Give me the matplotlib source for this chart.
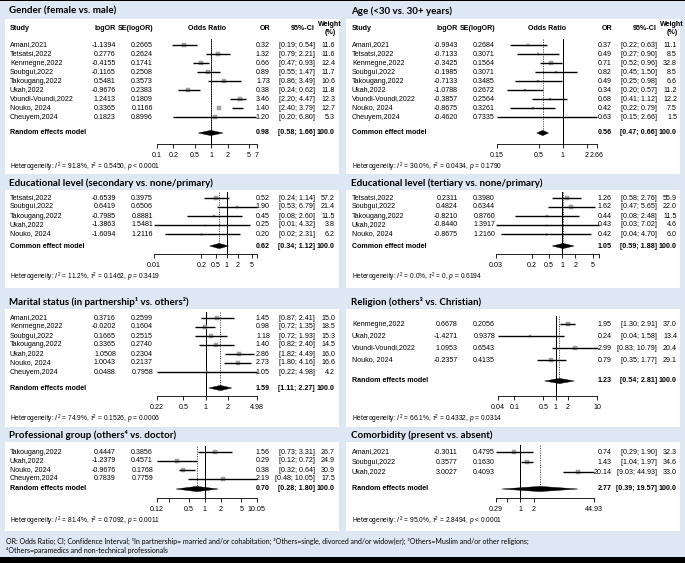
import matplotlib.pyplot as plt
import matplotlib.transforms as mtransforms
from matplotlib.patches import Rectangle, Polygon

W, H, DPI = 685, 563, 100

plt.rcParams['font.family'] = ['Liberation Sans', 'DejaVu Sans']
plt.rcParams['mathtext.fontset'] = 'custom'
plt.rcParams['mathtext.rm'] = 'Liberation Sans'
plt.rcParams['mathtext.it'] = 'Liberation Sans:italic'
plt.rcParams['mathtext.bf'] = 'Liberation Sans:bold'

# ---------------- data ----------------
gender_study = ['Amani,2021', 'Tetsatsi,2022', 'Kenmegne,2022', 'Soubgui,2022', 'Takougang,2022',
                'Ukah,2022', 'Voundi-Voundi,2022', 'Nouko, 2024', 'Cheuyem,2024']
gender_logor = [-1.1394, 0.2776, -0.4155, -0.1165, 0.5481, -0.9676, 1.2413, 0.3365, 0.1823]
gender_se = [0.2665, 0.2624, 0.1741, 0.2508, 0.3573, 0.2383, 0.1809, 0.1166, 0.8996]
gender_or = [0.32, 1.32, 0.66, 0.89, 1.73, 0.38, 3.46, 1.40, 1.20]
gender_lo = [0.19, 0.79, 0.47, 0.55, 0.86, 0.24, 2.20, 2.40, 0.20]
gender_hi = [0.54, 2.21, 0.93, 1.47, 3.49, 0.62, 4.47, 3.79, 6.80]
gender_w = [11.6, 11.6, 12.4, 11.7, 10.6, 11.8, 12.3, 12.7, 5.3]
gender_pool = [0.98, 0.58, 1.66]
gender_het = ['91.8%', '0.5450', '< 0.0001']
gender_ticks = [0.1, 0.2, 0.5, 1, 2, 5, 7]
gender_ticklabels = ['0.1', '0.2', '0.5', '1', '2', '5', '7']

age_study = ['Amani,2021', 'Tetsatsi,2022', 'Kenmegne,2022', 'Soubgui,2022', 'Takougang,2022',
             'Ukah,2022', 'Voundi-Voundi,2022', 'Nouko, 2024', 'Cheuyem,2024']
age_logor = [-0.9943, -0.7133, -0.3425, -0.1985, -0.7133, -1.0788, -0.3857, -0.8675, -0.4620]
age_se = [0.2684, 0.3071, 0.1564, 0.3071, 0.3485, 0.2672, 0.2564, 0.3261, 0.7335]
age_or = [0.37, 0.49, 0.71, 0.82, 0.49, 0.34, 0.68, 0.42, 0.63]
age_lo = [0.22, 0.27, 0.52, 0.45, 0.25, 0.20, 0.41, 0.22, 0.15]
age_hi = [0.63, 0.90, 0.96, 1.50, 0.98, 0.57, 1.12, 0.79, 2.66]
age_w = [11.1, 8.5, 32.8, 8.5, 6.6, 11.2, 12.2, 7.5, 1.5]
age_pool = [0.56, 0.47, 0.66]
age_het = ['30.0%', '0.0434', '= 0.1790']
age_ticks = [0.15, 0.5, 1, 2, 2.66]
age_ticklabels = ['0.15', '0.5', '1', '2', '2.66']

edu2_study = ['Tetsatsi,2022', 'Soubgui,2022', 'Takougang,2022', 'Ukah,2022', 'Nouko, 2024']
edu2_logor = [-0.6539, 0.6419, -0.7985, -1.3863, -1.6094]
edu2_se = [0.3975, 0.6506, 0.8881, 1.5481, 1.2116]
edu2_or = [0.52, 1.90, 0.45, 0.25, 0.20]
edu2_lo = [0.24, 0.53, 0.08, 0.01, 0.02]
edu2_hi = [1.14, 6.79, 2.60, 4.32, 2.31]
edu2_w = [57.2, 21.4, 11.5, 3.8, 6.2]
edu2_pool = [0.62, 0.34, 1.12]
edu2_het = ['11.2%', '0.1462', '= 0.3419']
edu2_ticks = [0.01, 0.2, 0.5, 1, 2, 5, 6.79]
edu2_ticklabels = ['0.01', '0.2', '0.5', '1', '2', '5', '']

edu3_study = ['Tetsatsi,2022', 'Soubgui,2022', 'Takougang,2022', 'Ukah,2022', 'Nouko, 2024']
edu3_logor = [0.2311, 0.4824, -0.8210, -0.8440, -0.8675]
edu3_se = [0.3980, 0.6344, 0.8760, 1.3917, 1.2160]
edu3_or = [1.26, 1.62, 0.44, 0.43, 0.42]
edu3_lo = [0.58, 0.47, 0.08, 0.03, 0.04]
edu3_hi = [2.76, 5.65, 2.48, 7.02, 4.70]
edu3_w = [55.9, 22.0, 11.5, 4.6, 6.0]
edu3_pool = [1.05, 0.59, 1.88]
edu3_het = ['0.0%', '0', '= 0.6194']
edu3_ticks = [0.03, 0.2, 0.5, 1, 2, 5, 7.02]
edu3_ticklabels = ['0.03', '0.2', '0.5', '1', '2', '5', '']

marital_study = ['Amani,2021', 'Kenmegne,2022', 'Soubgui,2022', 'Takougang,2022', 'Ukah,2022',
                 'Nouko, 2024', 'Cheuyem,2024']
marital_logor = [0.3716, -0.0202, 0.1665, 0.3365, 1.0508, 1.0043, 0.0488]
marital_se = [0.2599, 0.1604, 0.2515, 0.2740, 0.2304, 0.2137, 0.7958]
marital_or = [1.45, 0.98, 1.18, 1.40, 2.86, 2.73, 1.05]
marital_lo = [0.87, 0.72, 0.72, 0.82, 1.82, 1.80, 0.22]
marital_hi = [2.41, 1.35, 1.93, 2.40, 4.49, 4.16, 4.98]
marital_w = [15.0, 18.5, 15.3, 14.5, 16.0, 16.6, 4.2]
marital_pool = [1.59, 1.11, 2.27]
marital_het = ['74.9%', '0.1526', '= 0.0006']
marital_ticks = [0.22, 0.5, 1, 2, 4.98]
marital_ticklabels = ['0.22', '0.5', '1', '2', '4.98']

religion_study = ['Kenmegne,2022', 'Ukah,2022', 'Voundi-Voundi,2022', 'Nouko, 2024']
religion_logor = [0.6678, -1.4271, 1.0953, -0.2357]
religion_se = [0.2056, 0.9378, 0.6543, 0.4135]
religion_or = [1.95, 0.24, 2.99, 0.79]
religion_lo = [1.30, 0.04, 0.83, 0.35]
religion_hi = [2.91, 1.58, 10.79, 1.77]
religion_w = [37.0, 13.4, 20.4, 29.1]
religion_pool = [1.23, 0.54, 2.81]
religion_het = ['66.1%', '0.4332', '= 0.0314']
religion_ticks = [0.04, 0.1, 0.5, 1, 2, 10]
religion_ticklabels = ['0.04', '0.1', '0.5', '1', '2', '10']

prof_study = ['Takougang,2022', 'Ukah,2022', 'Nouko, 2024', 'Cheuyem,2024']
prof_logor = [0.4447, -1.2379, -0.9676, 0.7839]
prof_se = [0.3856, 0.4571, 0.1768, 0.7759]
prof_or = [1.56, 0.29, 0.38, 2.19]
prof_lo = [0.73, 0.12, 0.32, 0.48]
prof_hi = [3.31, 0.72, 0.64, 10.05]
prof_w = [26.7, 24.9, 30.9, 17.5]
prof_pool = [0.70, 0.28, 1.80]
prof_het = ['81.4%', '0.7092', '= 0.0011']
prof_ticks = [0.12, 0.2, 0.5, 1, 2, 5, 10.05]
prof_ticklabels = ['0.12', '', '0.5', '1', '2', '5', '10.05']

comorb_study = ['Amani,2021', 'Soubgui,2022', 'Ukah,2022']
comorb_logor = [-0.3011, 0.3577, 3.0027]
comorb_se = [0.4795, 0.1630, 0.4093]
comorb_or = [0.74, 1.43, 20.14]
comorb_lo = [0.29, 1.04, 9.03]
comorb_hi = [1.90, 1.97, 44.93]
comorb_w = [32.3, 34.6, 33.0]
comorb_pool = [2.77, 0.39, 19.57]
comorb_het = ['95.0%', '2.8494', '< 0.0001']
comorb_ticks = [0.29, 0.5, 1, 2, 44.93]
comorb_ticklabels = ['0.29', '', '1', '2', '44.93']

footnote = ['OR: Odds Ratio; CI; Confidence Interval; \u00b9In partnership= married and/or cohabitation; '
            '\u00b2Others=single, divorced and/or widow(er); \u00b3Others=Muslim and/or other religions;',
            '\u2074Others=paramedics and non-technical professionals']

# ---------------- layout (pixels, y from top) ----------------
BG = '#dde8f4'
FS = 5.1
TITLE_FONT = ['Lato', 'DejaVu Sans']

panels = [
    dict(title='Gender (female vs. male)', study=gender_study, logor=gender_logor, se=gender_se,
         orv=gender_or, lo=gender_lo, hi=gender_hi, w=gender_w, pool=gender_pool, het=gender_het,
         ticks=gender_ticks, labels=gender_ticklabels, model='Random effects model',
         ox=0, title_y=11, header=True, row0=45, sp=9.0, pool_y=133, axis_y=144, x0=157, x1=257),
    dict(title='Age (<30 vs. 30+ years)', study=age_study, logor=age_logor, se=age_se,
         orv=age_or, lo=age_lo, hi=age_hi, w=age_w, pool=age_pool, het=age_het,
         ticks=age_ticks, labels=age_ticklabels, model='Common effect model',
         ox=342, title_y=11, header=True, row0=45, sp=9.0, pool_y=133, axis_y=144, x0=497, x1=597),
    dict(title='Educational level (secondary vs. none/primary)', study=edu2_study, logor=edu2_logor,
         se=edu2_se, orv=edu2_or, lo=edu2_lo, hi=edu2_hi, w=edu2_w, pool=edu2_pool, het=edu2_het,
         ticks=edu2_ticks, labels=edu2_ticklabels, model='Common effect model',
         ox=0, title_y=183, header=False, row0=198, sp=9.0, pool_y=246, axis_y=254, x0=154, x1=257),
    dict(title='Educational level (tertiary vs. none/primary)', study=edu3_study, logor=edu3_logor,
         se=edu3_se, orv=edu3_or, lo=edu3_lo, hi=edu3_hi, w=edu3_w, pool=edu3_pool, het=edu3_het,
         ticks=edu3_ticks, labels=edu3_ticklabels, model='Common effect model',
         ox=342, title_y=183, header=False, row0=198, sp=9.0, pool_y=246, axis_y=254, x0=496, x1=599),
    dict(title='Marital status (in partnership\u00b9 vs. others\u00b2)', study=marital_study,
         logor=marital_logor, se=marital_se, orv=marital_or, lo=marital_lo, hi=marital_hi,
         w=marital_w, pool=marital_pool, het=marital_het, ticks=marital_ticks,
         labels=marital_ticklabels, model='Random effects model',
         ox=0, title_y=302, header=False, row0=318, sp=9.0, pool_y=388, axis_y=396, x0=157, x1=257),
    dict(title='Religion (others\u00b3 vs. Christian)', study=religion_study, logor=religion_logor,
         se=religion_se, orv=religion_or, lo=religion_lo, hi=religion_hi, w=religion_w,
         pool=religion_pool, het=religion_het, ticks=religion_ticks, labels=religion_ticklabels,
         model='Random effects model',
         ox=342, title_y=302, header=False, row0=324, sp=12.0, pool_y=381, axis_y=396, x0=498, x1=597),
    dict(title='Professional group (others\u2074 vs. doctor)', study=prof_study, logor=prof_logor,
         se=prof_se, orv=prof_or, lo=prof_lo, hi=prof_hi, w=prof_w, pool=prof_pool, het=prof_het,
         ticks=prof_ticks, labels=prof_ticklabels, model='Random effects model',
         ox=0, title_y=435, header=False, row0=452, sp=9.0, pool_y=489, axis_y=498, x0=157, x1=257),
    dict(title='Comorbidity (present vs. absent)', study=comorb_study, logor=comorb_logor,
         se=comorb_se, orv=comorb_or, lo=comorb_lo, hi=comorb_hi, w=comorb_w, pool=comorb_pool,
         het=comorb_het, ticks=comorb_ticks, labels=comorb_ticklabels, model='Random effects model',
         ox=342, title_y=435, header=False, row0=452, sp=10.0, pool_y=489, axis_y=498, x0=496, x1=594),
]

# white boxes per row: (top, bottom)
boxes = [(19, 174), (190, 288), (309, 427), (442, 531)]
cols = [(5, 339), (346, 680)]


def fx(px):
    return px / W


def fy(py):
    return 1 - py / H


fig = plt.figure(figsize=(W / DPI, H / DPI), dpi=DPI)
fig.patch.set_facecolor(BG)

for top, bot in boxes:
    for x0, x1 in cols:
        fig.add_artist(Rectangle((fx(x0), fy(bot)), fx(x1 - x0), (bot - top) / H,
                                 transform=fig.transFigure, fc='white', ec='none', zorder=0))
# black strips at the top and bottom edge
fig.add_artist(Rectangle((0, fy(1)), 1, 1 / H, transform=fig.transFigure, fc='black', ec='none'))
fig.add_artist(Rectangle((0, 0), 1, 6 / H, transform=fig.transFigure, fc='black', ec='none'))


def draw_panel(p):
    ox = p['ox']
    sp = p['sp']
    n = len(p['study'])
    ytop = -0.9
    ybot = (p['axis_y'] - p['row0']) / sp
    ypool = (p['pool_y'] - p['row0']) / sp
    top_px = p['row0'] + ytop * sp
    ax = fig.add_axes([fx(p['x0']), fy(p['axis_y']), fx(p['x1'] - p['x0']),
                       (p['axis_y'] - top_px) / H])
    ax.patch.set_visible(False)
    ax.set_xscale('log')
    ax.set_xlim(p['ticks'][0], p['ticks'][-1])
    ax.set_ylim(ybot, ytop)
    for s in ['top', 'left', 'right']:
        ax.spines[s].set_visible(False)
    ax.spines['bottom'].set_linewidth(0.6)
    ax.set_yticks([])
    ax.set_xticks(p['ticks'])
    ax.set_xticklabels(p['labels'])
    ax.minorticks_off()
    ax.tick_params(axis='x', length=2.6, width=0.6, pad=3.4, labelsize=FS)

    wmax = max(p['w'])
    est, plo, phi = p['pool']

    # reference line and pooled-estimate line
    ax.plot([1, 1], [ytop + 0.2, ybot], color='black', lw=0.72, clip_on=False, zorder=2,
            snap=True)
    ax.plot([est, est], [ytop + 0.2, ypool], color='#555555', lw=0.72, ls=(0, (1.2, 1.2)),
            clip_on=False, zorder=2, snap=True)

    for i in range(n):
        side = 4.8 * (p['w'][i] / wmax) ** 0.5
        ax.plot(p['orv'][i], i, marker='s', ms=side * 72 / DPI, color='#a8a8a8',
                mec='#909090', mew=0.3, ls='none', clip_on=False, zorder=3)
        ax.plot([p['lo'][i], p['hi'][i]], [i, i], color='black', lw=1.0,
                solid_capstyle='butt', clip_on=False, zorder=4)

    hd = 2.6 / sp
    ax.add_patch(Polygon([(plo, ypool), (est, ypool - hd), (phi, ypool), (est, ypool + hd)],
                         closed=True, fc='black', ec='black', lw=0.3, clip_on=False, zorder=5))

    tr = mtransforms.blended_transform_factory(fig.transFigure, ax.transData)
    for i in range(n):
        ax.text(fx(10 + ox), i, p['study'][i], transform=tr, ha='left', va='center', fontsize=FS)
        ax.text(fx(116 + ox), i, f"{p['logor'][i]:.4f}", transform=tr, ha='right', va='center',
                fontsize=FS)
        ax.text(fx(153 + ox), i, f"{p['se'][i]:.4f}", transform=tr, ha='right', va='center',
                fontsize=FS)
        ax.text(fx(270 + ox), i, f"{p['orv'][i]:.2f}", transform=tr, ha='right', va='center',
                fontsize=FS)
        ax.text(fx(315 + ox), i, f"[{p['lo'][i]:.2f}; {p['hi'][i]:.2f}]", transform=tr,
                ha='right', va='center', fontsize=FS)
        ax.text(fx(335 + ox), i, f"{p['w'][i]:.1f}", transform=tr, ha='right', va='center',
                fontsize=FS)

    ax.text(fx(10 + ox), ypool, p['model'], transform=tr, ha='left', va='center', fontsize=FS,
            fontweight='bold')
    ax.text(fx(270 + ox), ypool, f"{est:.2f}", transform=tr, ha='right', va='center',
            fontsize=FS, fontweight='bold')
    ax.text(fx(315 + ox), ypool, f"[{plo:.2f}; {phi:.2f}]", transform=tr, ha='right',
            va='center', fontsize=FS, fontweight='bold')
    ax.text(fx(335 + ox), ypool, "100.0", transform=tr, ha='right', va='center', fontsize=FS,
            fontweight='bold')

    i2, tau, pv = p['het']
    fig.text(fx(10 + ox), fy(p['axis_y'] + 23),
             rf"Heterogeneity: $I^2$ = {i2}, $\tau^2$ = {tau}, $p$ {pv}",
             ha='left', va='center', fontsize=4.8)

    fig.text(fx(9 + ox), fy(p['title_y']), p['title'], ha='left', va='center', fontsize=7.0,
             fontweight='bold', family=TITLE_FONT)

    if p['header']:
        hy = 28
        fig.text(fx(10 + ox), fy(hy), 'Study', ha='left', va='center', fontsize=FS, fontweight='bold')
        fig.text(fx(116 + ox), fy(hy), 'logOR', ha='right', va='center', fontsize=FS, fontweight='bold')
        fig.text(fx(153 + ox), fy(hy), 'SE(logOR)', ha='right', va='center', fontsize=FS,
                 fontweight='bold')
        fig.text(fx((p['x0'] + p['x1']) / 2), fy(hy), 'Odds Ratio', ha='center', va='center',
                 fontsize=FS, fontweight='bold')
        fig.text(fx(270 + ox), fy(hy), 'OR', ha='right', va='center', fontsize=FS, fontweight='bold')
        fig.text(fx(315 + ox), fy(hy), '95%-CI', ha='right', va='center', fontsize=FS,
                 fontweight='bold')
        fig.text(fx(330 + ox), fy(24), 'Weight', ha='center', va='center', fontsize=FS,
                 fontweight='bold')
        fig.text(fx(330 + ox), fy(33), '(%)', ha='center', va='center', fontsize=FS,
                 fontweight='bold')


for p in panels:
    draw_panel(p)

fig.text(fx(6), fy(541), footnote[0], ha='left', va='center', fontsize=5.0, family=TITLE_FONT)
fig.text(fx(6), fy(550), footnote[1], ha='left', va='center', fontsize=5.0, family=TITLE_FONT)

fig.savefig('out.png', dpi=DPI, facecolor=BG)
